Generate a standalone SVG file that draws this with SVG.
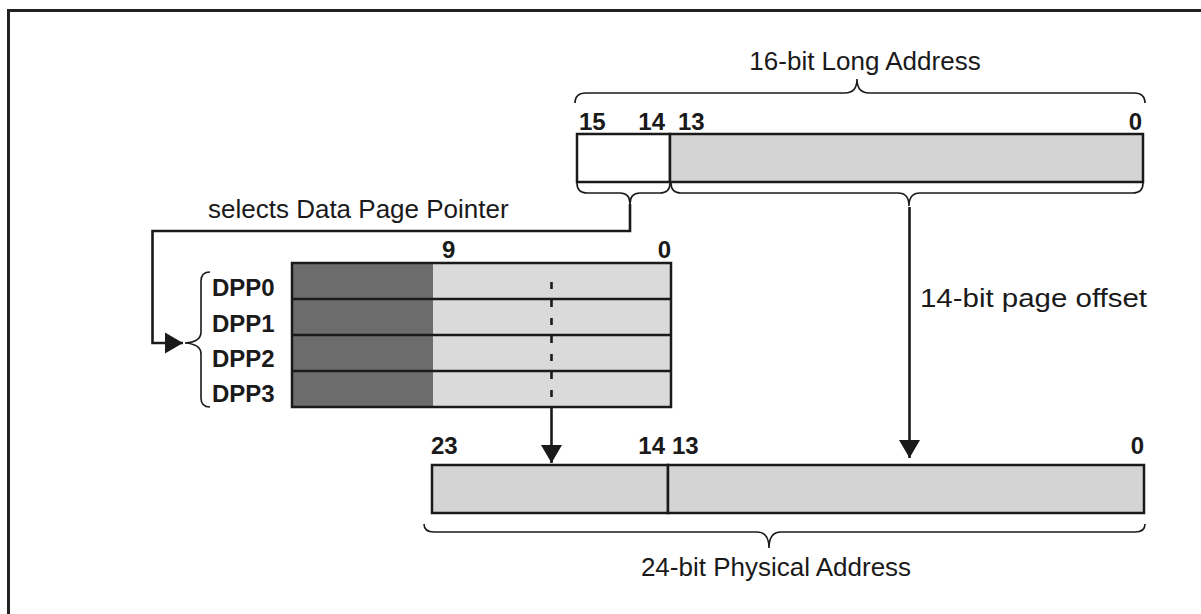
<svg xmlns="http://www.w3.org/2000/svg" width="1201" height="614" viewBox="0 0 1201 614">
<style>
.t{font-family:"Liberation Sans",Arial,sans-serif;font-size:26px;fill:#1a1a1a}
.b{font-family:"Liberation Sans",Arial,sans-serif;font-size:24px;font-weight:bold;fill:#1a1a1a}
.box{stroke:#1a1a1a;stroke-width:2.5}
.light{fill:#d4d4d4}
.lite2{fill:#dadada}
.dark{fill:#6c6c6c}
.white{fill:#ffffff}
.brace{fill:none;stroke:#1a1a1a;stroke-width:1.6}
.conn{fill:none;stroke:#1a1a1a;stroke-width:2.6}
</style>
<defs>
<marker id="arr" markerWidth="20" markerHeight="22" refX="18" refY="11" orient="auto" markerUnits="userSpaceOnUse">
<path d="M0,0.5 L18,11 L0,21.5 Z" fill="#1a1a1a"/>
</marker>
</defs>
<g id="frame">
<line x1="8" y1="10.5" x2="1201" y2="10.5" stroke="#222" stroke-width="3"/>
<line x1="8.5" y1="9" x2="8.5" y2="614" stroke="#222" stroke-width="3"/>
</g>
<g id="long-address">
<text class="t" x="865" y="70" text-anchor="middle">16-bit Long Address</text>
<path class="brace" d="M575,103 Q575,93 586,93 L845,93 Q857,93 857,79 Q857,93 869,93 L1134,93 Q1145,93 1145,103"/>
<text class="b" x="579" y="130">15</text>
<text class="b" x="665" y="130" text-anchor="end">14</text>
<text class="b" x="678" y="130">13</text>
<text class="b" x="1142" y="130" text-anchor="end">0</text>
<rect class="box white" x="577" y="134" width="93" height="48"/>
<rect class="box light" x="670" y="134" width="473" height="48"/>
<path class="brace" d="M577,183 Q577,193 587,193 L620,193 Q630,193 630,204 Q630,193 640,193 L660,193 Q670,193 670,183"/>
<path class="brace" d="M671,183 Q671,193 681,193 L898,193 Q909,193 909,206 Q909,193 920,193 L1133,193 Q1143,193 1143,183"/>
</g>
<g id="dpp">
<text class="t" x="208" y="218">selects Data Page Pointer</text>
<text class="b" x="442" y="258">9</text>
<text class="b" x="671" y="258" text-anchor="end">0</text>
<rect class="dark" x="292" y="263" width="141" height="144"/>
<rect class="lite2" x="433" y="263" width="238" height="144"/>
<rect class="box" fill="none" x="292" y="263" width="379" height="144"/>
<line class="box" x1="292" y1="299" x2="671" y2="299"/>
<line class="box" x1="292" y1="335" x2="671" y2="335"/>
<line class="box" x1="292" y1="371" x2="671" y2="371"/>
<path class="brace" stroke="#333" stroke-width="1.3" d="M210,272 Q201,272 201,281 L201,332 Q201,342 185,343 Q201,344 201,354 L201,398 Q201,407 210,407"/>
<text class="b" x="212" y="296">DPP0</text>
<text class="b" x="212" y="332">DPP1</text>
<text class="b" x="212" y="367">DPP2</text>
<text class="b" x="212" y="402">DPP3</text>
</g>
<g id="physical-address">
<text class="b" x="431" y="454">23</text>
<text class="b" x="665" y="454" text-anchor="end">14</text>
<text class="b" x="672" y="454">13</text>
<text class="b" x="1144" y="454" text-anchor="end">0</text>
<rect class="box light" x="432" y="465" width="236" height="48"/>
<rect class="box light" x="668" y="465" width="476" height="48"/>
<path class="brace" d="M424,524 Q424,532 434,532 L757,532 Q769,532 769,548 Q769,532 781,532 L1135,532 Q1145,532 1145,524"/>
<text class="t" x="776" y="576" text-anchor="middle">24-bit Physical Address</text>
</g>
<g id="connectors">
<polyline class="conn" points="630,204 630,231 152.5,231 152.5,343 183,343" marker-end="url(#arr)"/>
<line class="conn" x1="551.5" y1="282" x2="551.5" y2="407" stroke-dasharray="7,11"/>
<line class="conn" x1="551.5" y1="407" x2="551.5" y2="463" marker-end="url(#arr)"/>
<line class="conn" x1="909.5" y1="207" x2="909.5" y2="458" marker-end="url(#arr)"/>
<text class="t" x="920" y="307" font-size="27" textLength="227" lengthAdjust="spacingAndGlyphs">14-bit page offset</text>
</g>
</svg>
